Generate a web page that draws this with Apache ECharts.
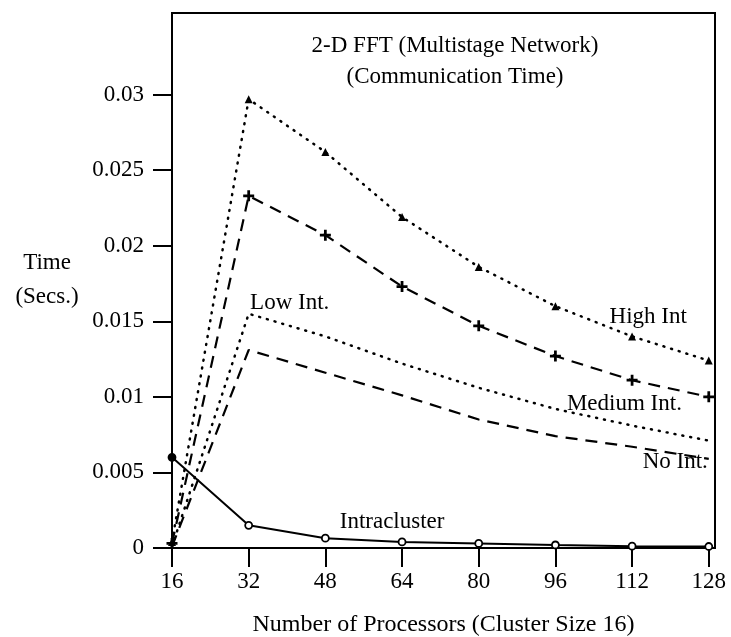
<!DOCTYPE html>
<html>
<head>
<meta charset="utf-8">
<script src="https://cdn.jsdelivr.net/npm/echarts@6/dist/echarts.min.js"></script>
<style>
html,body{margin:0;padding:0;background:#fff;}
#c{width:731px;height:637px;}
</style>
</head>
<body>
<div id="c"></div>
<script>
// ---- data ----
var processors = [16, 32, 48, 64, 80, 96, 112, 128];
var highInt   = [0.0004, 0.0297, 0.0262, 0.0219, 0.0186, 0.0160, 0.0140, 0.0124];
var mediumInt = [0.0003, 0.0233, 0.0207, 0.0173, 0.0147, 0.0127, 0.0111, 0.0100];
var lowInt    = [0.0001, 0.0155, 0.0140, 0.0122, 0.0106, 0.0092, 0.0081, 0.0071];
var noInt     = [0.0001, 0.0131, 0.0116, 0.0101, 0.0085, 0.0074, 0.0067, 0.0059];
var intra     = [0.0060, 0.0015, 0.00065, 0.0004, 0.0003, 0.0002, 0.00012, 0.0001];
var xTicks = [16, 32, 48, 64, 80, 96, 112, 128];
var yTicks = [0, 0.005, 0.01, 0.015, 0.02, 0.025, 0.03];
var yTickLabels = ['0', '0.005', '0.01', '0.015', '0.02', '0.025', '0.03'];
var seriesNames = ['High Int', 'Medium Int.', 'Low Int.', 'No Int.', 'Intracluster'];
var titleLines = ['2-D FFT (Multistage Network)', '(Communication Time)'];
var xName = 'Number of Processors (Cluster Size 16)';
var yNameLines = ['Time', '(Secs.)'];

function pairs(vals) {
  return processors.map(function (p, i) { return [p, vals[i]]; });
}

var FONT = 'Liberation Serif';
var chart = echarts.init(document.getElementById('c'), null, {renderer: 'canvas'});

function annot(name, coord, pos) {
  return {
    symbol: 'circle', symbolSize: 0, silent: true, animation: false,
    label: {show: true, position: pos, distance: 0, formatter: name,
            color: '#000', fontFamily: FONT, fontSize: 23},
    data: [{coord: coord}]
  };
}

var intraData = pairs(intra).map(function (d, i) {
  return i === 0 ? {value: d, itemStyle: {color: '#000'}} : {value: d};
});

chart.setOption({
  animation: false,
  backgroundColor: '#fff',
  grid: {left: 172, right: 16, top: 13, bottom: 89, show: true,
         outerBoundsMode: 'none', containLabel: false,
         borderColor: '#000', borderWidth: 2, backgroundColor: 'transparent'},
  xAxis: {
    type: 'value', min: 16, max: 129.3, interval: 16,
    name: xName, nameLocation: 'middle', nameGap: 65,
    nameTextStyle: {fontFamily: FONT, fontSize: 24, color: '#000'},
    axisLine: {lineStyle: {color: '#000', width: 2}},
    axisTick: {show: true, length: 19, inside: false, customValues: xTicks,
               lineStyle: {color: '#000', width: 2}},
    axisLabel: {customValues: xTicks, margin: 22, fontFamily: FONT, fontSize: 23, color: '#000'},
    splitLine: {show: false}
  },
  yAxis: {
    type: 'value', min: 0, max: 0.0354, interval: 0.005,
    axisLine: {show: true, lineStyle: {color: '#000', width: 2}},
    axisTick: {show: true, length: 19, customValues: yTicks,
               lineStyle: {color: '#000', width: 2}},
    axisLabel: {customValues: yTicks, margin: 28, fontFamily: FONT, fontSize: 23, color: '#000',
                formatter: function (v) {
                  var i = yTicks.findIndex(function (t) { return Math.abs(t - v) < 1e-9; });
                  return i >= 0 ? yTickLabels[i] : '';
                }},
    splitLine: {show: false}
  },
  graphic: [
    {type: 'text', x: 455, y: 61,
     style: {text: titleLines.join('\n'), fill: '#000', font: '23px "' + FONT + '"',
             align: 'center', verticalAlign: 'middle', lineHeight: 31}},
    {type: 'text', x: 47, y: 280,
     style: {text: yNameLines.join('\n'), fill: '#000', font: '23px "' + FONT + '"',
             align: 'center', verticalAlign: 'middle', lineHeight: 34}}
  ],
  series: [
    {name: seriesNames[0], type: 'line', data: pairs(highInt),
     symbol: 'triangle', symbolSize: 8, showSymbol: true,
     itemStyle: {color: '#000'},
     lineStyle: {color: '#000', width: 2.5, type: [1, 7], cap: 'round'},
     markPoint: annot(seriesNames[0], [107.3, 0.0153], 'right')},
    {name: seriesNames[1], type: 'line', data: pairs(mediumInt),
     symbol: 'path://M3,0h2v3h3v2h-3v3h-2v-3h-3v-2h3z', symbolSize: 11, showSymbol: true,
     itemStyle: {color: '#000'},
     lineStyle: {color: '#000', width: 2.2, type: [12, 8]},
     markPoint: annot(seriesNames[1], [98.4, 0.0095], 'right')},
    {name: seriesNames[2], type: 'line', data: pairs(lowInt),
     showSymbol: false, symbol: 'none',
     lineStyle: {color: '#000', width: 2.5, type: [1, 7], cap: 'round'},
     markPoint: annot(seriesNames[2], [32.3, 0.0162], 'right')},
    {name: seriesNames[3], type: 'line', data: pairs(noInt),
     showSymbol: false, symbol: 'none',
     lineStyle: {color: '#000', width: 2.2, type: [12, 8]},
     markPoint: annot(seriesNames[3], [127.8, 0.0057], 'left')},
    {name: seriesNames[4], type: 'line', data: intraData,
     symbol: 'circle', symbolSize: 7, showSymbol: true,
     itemStyle: {color: '#fff', borderColor: '#000', borderWidth: 1.8},
     lineStyle: {color: '#000', width: 2},
     markPoint: annot(seriesNames[4], [51.0, 0.0017], 'right')}
  ]
});
</script>
</body>
</html>
